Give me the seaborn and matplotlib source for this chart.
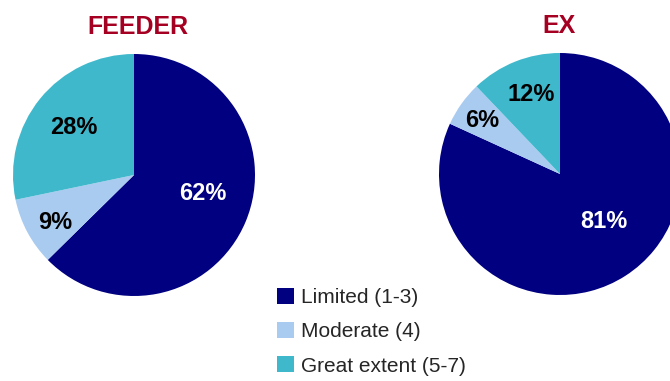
import matplotlib
matplotlib.use("Agg")
import matplotlib.pyplot as plt
from matplotlib.patches import Patch
import numpy as np
import seaborn as sns

# Survey answer shares (%) per group
categories = ["Limited (1-3)", "Moderate (4)", "Great extent (5-7)"]
groups = ["FEEDER", "EX"]
feeder_values = [62, 9, 28]
ex_values = [81, 6, 12]

sns.set_theme(style="white")
plt.rcParams["font.family"] = ["Liberation Sans", "DejaVu Sans"]

colors = ["#000080", "#A9CBF0", "#40B8CC"]
label_colors = ["white", "black", "black"]
title_color = "#A50021"

W, H = 670, 381
fig = plt.figure(figsize=(W / 100, H / 100), dpi=100)

# pie centres/radius in pixels; label radial distance (fraction of radius)
# and angular nudge (degrees) from each wedge's middle
pies = [
    dict(values=feeder_values, title=groups[0], cx=134, cy=175, r=121,
         dist=[0.59, 0.76, 0.63], nudge=[8, 3, 1], title_xy=(137.5, 34)),
    dict(values=ex_values, title=groups[1], cx=560, cy=174, r=121,
         dist=[0.53, 0.78, 0.70], nudge=[10, 1, -2], title_xy=(559, 33)),
]

for p in pies:
    r = p["r"]
    ax = fig.add_axes([(p["cx"] - r) / W, (H - p["cy"] - r) / H, 2 * r / W, 2 * r / H])
    wedges, _ = ax.pie(p["values"], colors=colors, startangle=90, counterclock=False,
                       radius=1, wedgeprops=dict(linewidth=0))
    ax.set_xlim(-1, 1)
    ax.set_ylim(-1, 1)
    ax.set_aspect("equal")
    ax.axis("off")
    for w, v, d, n, c in zip(wedges, p["values"], p["dist"], p["nudge"], label_colors):
        mid = np.deg2rad((w.theta1 + w.theta2) / 2 + n)
        ax.text(d * np.cos(mid), d * np.sin(mid), f"{v}%", ha="center", va="center",
                color=c, fontsize=17, fontweight="bold")
    fig.text(p["title_xy"][0] / W, 1 - p["title_xy"][1] / H, p["title"],
             ha="center", va="baseline", color=title_color, fontsize=18, fontweight="bold")

handles = [Patch(facecolor=c, edgecolor="none") for c in colors]
fig.legend(handles, categories, loc="upper left",
           bbox_to_anchor=(277 / W, 1 - 288 / H), frameon=False, fontsize=15,
           handlelength=0.8, handleheight=0.8, handletextpad=0.35,
           labelspacing=0.72, borderpad=0, borderaxespad=0)

fig.savefig("out.png", dpi=100)
